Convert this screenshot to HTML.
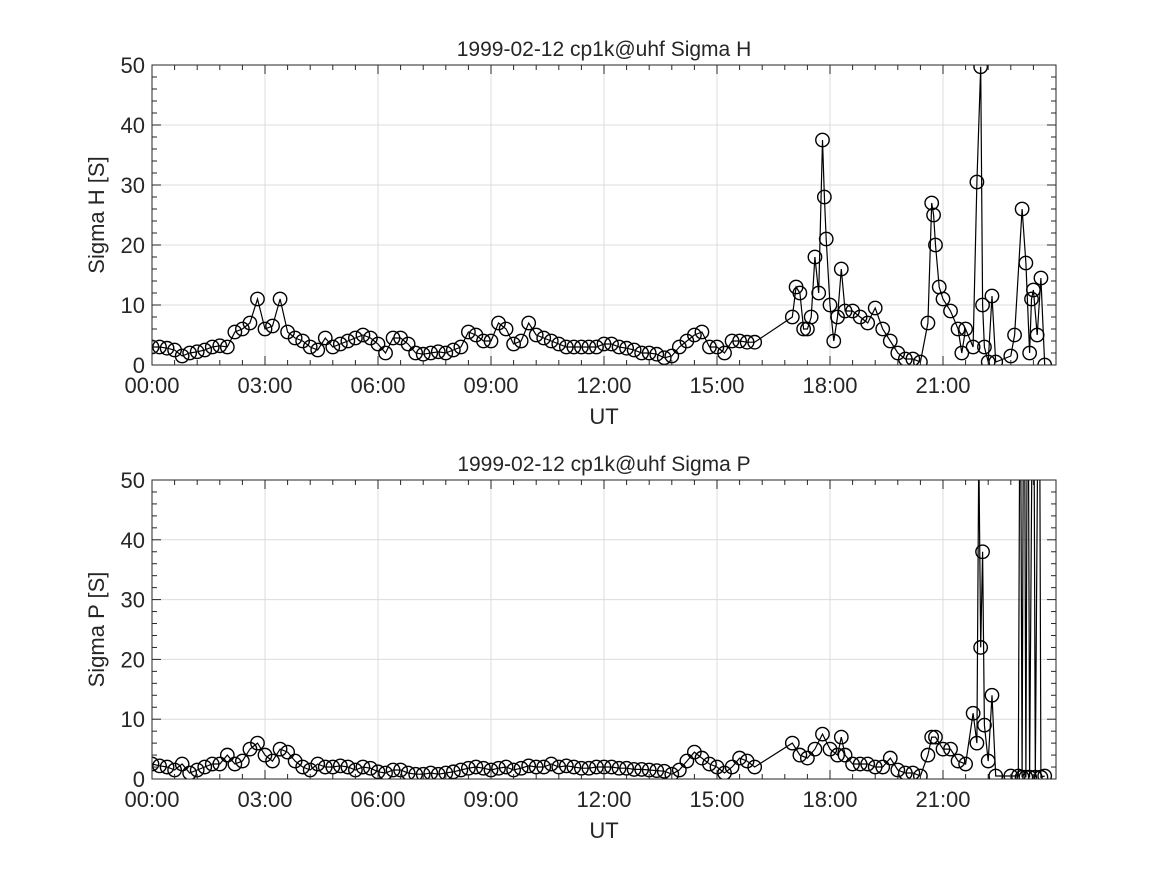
<!DOCTYPE html>
<html><head><meta charset="utf-8"><style>
body{margin:0;background:#fff}
svg{display:block;font-family:"Liberation Sans",sans-serif;fill:#262626}
</style></head><body>
<svg id="fig" width="1167" height="875"></svg>
<script>
const hTimes=[0,0.2,0.4,0.6,0.8,1,1.2,1.4,1.6,1.8,2,2.2,2.4,2.6,2.8,3,3.2,3.4,3.6,3.8,4,4.2,4.4,4.6,4.8,5,5.2,5.4,5.6,5.8,6,6.2,6.4,6.6,6.8,7,7.2,7.4,7.6,7.8,8,8.2,8.4,8.6,8.8,9,9.2,9.4,9.6,9.8,10,10.2,10.4,10.6,10.8,11,11.2,11.4,11.6,11.8,12,12.2,12.4,12.6,12.8,13,13.2,13.4,13.6,13.8,14,14.2,14.4,14.6,14.8,15,15.2,15.4,15.6,15.8,16,17,17.1,17.2,17.3,17.4,17.5,17.6,17.7,17.8,17.85,17.9,18,18.1,18.2,18.3,18.4,18.6,18.8,19,19.2,19.4,19.6,19.8,20,20.2,20.4,20.6,20.7,20.75,20.8,20.9,21,21.2,21.4,21.5,21.6,21.8,21.9,22,22.05,22.1,22.2,22.3,22.4,22.8,22.9,23.1,23.2,23.3,23.35,23.4,23.5,23.6,23.7];
const hValues=[3,3,2.8,2.5,1.5,2,2.2,2.5,3,3.2,3,5.5,6,7,11,6,6.5,11,5.5,4.5,4,3,2.5,4.5,3,3.5,4,4.5,5,4.5,3.5,2,4.5,4.5,3.5,2,1.8,2,2.2,2,2.5,3,5.5,5,4,4,7,6,3.5,4,7,5,4.5,4,3.5,3,3,3,3,3,3.5,3.5,3,2.8,2.5,2,2,1.8,1.2,1.5,3,4,5,5.5,3,3,2,4,4,3.8,3.8,8,13,12,6,6,8,18,12,37.5,28,21,10,4,8,16,9,9,8,7,9.5,6,4,2,1,1,0.5,7,27,25,20,13,11,9,6,2,6,3,30.5,49.7,10,3,0.5,11.5,0.5,1.5,5,26,17,2,11,12.5,5,14.5,0];
const pTimes=[0,0.2,0.4,0.6,0.8,1,1.2,1.4,1.6,1.8,2,2.2,2.4,2.6,2.8,3,3.2,3.4,3.6,3.8,4,4.2,4.4,4.6,4.8,5,5.2,5.4,5.6,5.8,6,6.2,6.4,6.6,6.8,7,7.2,7.4,7.6,7.8,8,8.2,8.4,8.6,8.8,9,9.2,9.4,9.6,9.8,10,10.2,10.4,10.6,10.8,11,11.2,11.4,11.6,11.8,12,12.2,12.4,12.6,12.8,13,13.2,13.4,13.6,13.8,14,14.2,14.4,14.6,14.8,15,15.2,15.4,15.6,15.8,16,17,17.2,17.4,17.6,17.8,18,18.2,18.3,18.4,18.6,18.8,19,19.2,19.4,19.6,19.8,20,20.2,20.4,20.6,20.7,20.8,21,21.2,21.4,21.6,21.8,21.9,21.95,22,22.05,22.1,22.2,22.3,22.4,22.8,23,23.05,23.1,23.15,23.2,23.25,23.3,23.4,23.45,23.55,23.6,23.7];
const pValues=[2.5,2.2,2,1.5,2.5,1,1.5,2,2.5,2.5,4,2.5,3,5,6,4,3,5,4.5,3,2,1.5,2.5,2,2,2.2,2,1.5,2,1.8,1.2,1,1.5,1.5,1,0.8,0.8,1,0.8,1,1.2,1.5,1.8,2,1.8,1.5,1.8,2,1.5,1.8,2.2,2,2,2.5,2,2.2,2,1.8,1.8,2,2,2,1.8,1.8,1.6,1.6,1.5,1.4,1.3,0.8,1.5,3,4.5,3.5,2.5,2,1,2,3.5,3,2,6,4,3.5,5,7.5,5,4,7,4,2.5,2.5,2.5,2,2,3.5,1.5,1,1,0.5,4,7,7,5,5,3,2.5,11,6,55,22,38,9,3,14,0.5,0.5,0.5,80,0.3,90,0.3,90,0.3,90,0.3,90,0.3,0.5];
const xTicks=["00:00","03:00","06:00","09:00","12:00","15:00","18:00","21:00"];
const yTicks=[0,10,20,30,40,50];

const NS="http://www.w3.org/2000/svg";
const svg=document.getElementById('fig');
function mk(t,a,p){const e=document.createElementNS(NS,t);for(const k in a)e.setAttribute(k,a[k]);(p||svg).appendChild(e);return e;}
const L=152,R=1056;
function panel(top,bot,title,ylab,times,vals,id){
  const g=mk('g',{});
  
  
  const x=h=>L+(R-L)*h/24, y=v=>bot-(bot-top)*v/50;
  for(let i=1;i<8;i++){const l=mk('line',{x1:x(i*3),x2:x(i*3),y1:top,y2:bot,stroke:'#dcdcdc','stroke-width':1},g);}
  yTicks.forEach(v=>{if(v>0&&v<50){const l=mk('line',{x1:L,x2:R,y1:y(v),y2:y(v),stroke:'#dcdcdc','stroke-width':1},g);}});
  const cp='clip-'+id;
  const c=mk('clipPath',{id:cp},g);mk('rect',{x:L,y:top,width:R-L,height:bot-top},c);
  const sg=mk('g',{'clip-path':'url(#'+cp+')'},g);
  
  
  const pts=times.map((t,i)=>x(t).toFixed(1)+','+y(vals[i]).toFixed(1)).join(' ');
  const pl=mk('polyline',{points:pts,fill:'none',stroke:'#000','stroke-width':1.2},sg);
  
  
  times.forEach((t,i)=>{const m=mk('circle',{cx:x(t),cy:y(vals[i]),r:6.7,fill:'none',stroke:'#000','stroke-width':1.4},sg);
    
    });
  mk('rect',{x:L,y:top,width:R-L,height:bot-top,fill:'none',stroke:'#262626','stroke-width':1},g);
  for(let h=0;h<=24.001;h+=0.6){[[bot,-1],[top,1]].forEach(([yy,d])=>{const big=Math.abs(h/3-Math.round(h/3))<1e-6;mk('line',{x1:x(h),x2:x(h),y1:yy,y2:yy+d*(big?9:5),stroke:'#262626'},g);});}
  for(let v=0;v<=50;v+=2){const big=v%10==0;mk('line',{x1:L,x2:L+(big?9:5),y1:y(v),y2:y(v),stroke:'#262626'},g);mk('line',{x1:R,x2:R-(big?9:5),y1:y(v),y2:y(v),stroke:'#262626'},g);}
  xTicks.forEach((s,i)=>{const tx=mk('text',{x:x(i*3),y:bot+28,'text-anchor':'middle','font-size':22},g);tx.textContent=s;});
  yTicks.forEach(v=>{const tx=mk('text',{x:L-7,y:y(v)+8,'text-anchor':'end','font-size':22},g);tx.textContent=v;});
  const tt=mk('text',{x:(L+R)/2,y:top-9,'text-anchor':'middle','font-size':21},g);tt.textContent=title;
  
  const xl=mk('text',{x:(L+R)/2,y:bot+59,'text-anchor':'middle','font-size':22},g);xl.textContent='UT';
  
  const yl=mk('text',{x:0,y:0,'text-anchor':'middle','font-size':22,transform:`translate(104,${(top+bot)/2}) rotate(-90)`},g);yl.textContent=ylab;
  
}
panel(65,365,'1999-02-12  cp1k@uhf Sigma H','Sigma H [S]',hTimes,hValues,'sigma-h');
panel(480,779,'1999-02-12  cp1k@uhf Sigma P','Sigma P [S]',pTimes,pValues,'sigma-p');
</script>
</body></html>
